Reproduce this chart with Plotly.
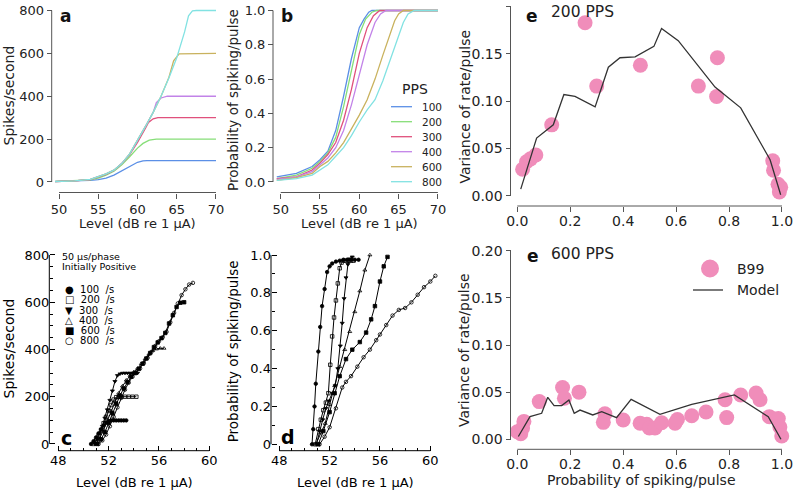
import plotly.graph_objects as go

W, H = 794, 490

PPS = [100, 200, 300, 400, 600, 800]
AB_COLORS = ['#5b8fe6', '#86de78', '#e0507c', '#c283e8', '#c9b25e', '#82e2e2']

# ---------------- panel a : rate vs level (model) ----------------
A_LEVEL = [
    [49.5, 52, 54, 55, 56, 57, 58, 59, 60, 60.7, 61.2, 70],
    [49.5, 52, 54, 55, 56, 57, 58, 59, 60, 60.7, 61.5, 62.4, 70],
    [49.5, 52, 54, 55, 56, 57, 58, 59, 60, 61, 61.4, 62, 62.6, 70],
    [49.5, 52, 54, 55, 56, 57, 58, 59, 60, 61, 62, 62.4, 63, 63.8, 70],
    [49.5, 52, 54, 55, 56, 57, 58, 59, 60, 61, 62, 63, 64, 64.6, 65.3, 70],
    [49.5, 52, 54, 55, 56, 57, 58, 59, 60, 61, 62, 63, 64, 65, 66, 66.5, 67, 67.5, 70],
]
A_RATE = [
    [3, 5, 8, 11, 18, 32, 52, 75, 92, 99, 100, 100],
    [3, 5, 10, 18, 32, 50, 80, 118, 158, 180, 195, 200, 200],
    [2, 5, 11, 22, 36, 54, 85, 128, 185, 250, 278, 295, 300, 300],
    [2, 5, 12, 24, 38, 55, 87, 130, 192, 258, 325, 370, 392, 400, 400],
    [2, 5, 12, 25, 38, 55, 86, 131, 193, 258, 325, 400, 488, 565, 598, 600],
    [2, 5, 12, 25, 38, 55, 86, 131, 193, 258, 325, 400, 485, 580, 700, 775, 798, 800, 800],
]

# ---------------- panel b : probability vs level (model) ----------------
B_LEVEL = [
    [49.5, 52, 54, 55, 56, 57, 58, 59, 60, 60.6, 61.2, 61.6, 70],
    [49.5, 52, 54, 55, 56, 57, 58, 59, 60, 60.8, 61.6, 62.2, 70],
    [49.5, 52, 54, 55, 56, 57, 58, 59, 60, 61, 61.8, 62.6, 70],
    [49.5, 52, 54, 55, 56, 57, 58, 59, 60, 61, 62, 62.7, 63.4, 70],
    [49.5, 52, 54, 55, 56, 57, 58, 59, 60, 61, 62, 63, 64, 64.5, 65, 65.6, 70],
    [49.5, 52, 54, 55, 56, 57, 58, 59, 60, 61, 62, 63, 64, 65, 65.6, 66.2, 67, 70],
]
B_PROB = [
    [0.03, 0.05, 0.09, 0.13, 0.18, 0.30, 0.50, 0.72, 0.90, 0.95, 0.99, 1.0, 1.0],
    [0.02, 0.04, 0.08, 0.12, 0.17, 0.26, 0.44, 0.66, 0.86, 0.95, 0.99, 1.0, 1.0],
    [0.02, 0.03, 0.07, 0.11, 0.16, 0.23, 0.36, 0.54, 0.75, 0.90, 0.97, 1.0, 1.0],
    [0.015, 0.03, 0.06, 0.10, 0.14, 0.20, 0.30, 0.45, 0.63, 0.80, 0.93, 0.98, 1.0, 1.0],
    [0.01, 0.025, 0.05, 0.09, 0.12, 0.17, 0.23, 0.31, 0.39, 0.48, 0.60, 0.74, 0.88, 0.94, 0.98, 1.0, 1.0],
    [0.01, 0.02, 0.04, 0.07, 0.10, 0.15, 0.20, 0.27, 0.35, 0.42, 0.48, 0.59, 0.72, 0.85, 0.93, 0.98, 1.0, 1.0],
]

# ---------------- panel c : measured rate vs level ----------------
C_LEVEL = [
    [50.6, 50.8, 51.0, 51.2, 51.4, 51.6, 51.8, 52.0, 52.2, 52.4, 52.6, 52.8, 53.0, 53.2, 53.4],
    [50.8, 51.0, 51.2, 51.4, 51.6, 51.8, 52.0, 52.2, 52.4, 52.6, 52.8, 53.0, 53.3, 53.6, 53.9, 54.2],
    [50.9, 51.1, 51.3, 51.5, 51.7, 51.9, 52.1, 52.3, 52.5, 52.7, 52.9, 53.1, 53.3, 53.5, 53.7, 53.9, 54.1, 54.3],
    [51.0, 51.3, 51.6, 51.9, 52.2, 52.5, 52.8, 53.1, 53.4, 53.7, 54.0, 54.3, 54.6, 54.9, 55.2, 55.5, 55.8, 56.1, 56.4],
    [51.1, 51.4, 51.7, 52.0, 52.3, 52.6, 52.9, 53.2, 53.5, 53.8, 54.1, 54.4, 54.7, 55.0, 55.3, 55.6, 55.9, 56.2,
     56.5, 56.8, 57.1, 57.4, 57.7, 58.0],
    [51.2, 51.5, 51.8, 52.1, 52.4, 52.7, 53.0, 53.3, 53.6, 53.9, 54.2, 54.5, 54.8, 55.1, 55.4, 55.7, 56.0, 56.3,
     56.6, 56.9, 57.2, 57.5, 57.8, 58.1, 58.4, 58.7],
]
C_RATE = [
    [0, 12, 28, 45, 62, 78, 90, 97, 100, 100, 100, 100, 100, 100, 100],
    [0, 15, 35, 60, 88, 115, 140, 165, 188, 198, 200, 200, 200, 200, 200, 200],
    [0, 20, 45, 75, 110, 145, 185, 225, 265, 290, 297, 300, 300, 300, 300, 300, 300, 300],
    [0, 25, 60, 100, 140, 180, 215, 245, 270, 290, 305, 320, 340, 360, 380, 395, 402, 405, 405],
    [0, 20, 50, 90, 130, 170, 205, 235, 262, 285, 300, 318, 340, 362, 385, 410, 430, 448, 470, 510, 545, 580,
     598, 600],
    [0, 15, 40, 75, 115, 155, 195, 230, 260, 285, 302, 320, 342, 365, 390, 415, 435, 452, 475, 515, 555, 595,
     630, 655, 675, 682],
]
C_SYMBOLS = ['circle', 'square-open', 'triangle-down', 'triangle-up-open', 'square', 'circle-open']
C_LEGEND = ['●  100  /s', '□  200  /s', '▼  300  /s', '△  400  /s', '■  600  /s', '○  800  /s']

# ---------------- panel d : measured probability vs level ----------------
D_LEVEL = [
    [50.6, 50.7, 50.8, 50.9, 51.1, 51.25, 51.4, 51.6, 51.8, 52.0, 52.2, 52.5, 52.8, 53.1, 53.4, 53.7, 54.0, 54.3],
    [50.85, 51.1, 51.3, 51.5, 51.7, 51.9, 52.05, 52.2, 52.35, 52.5, 52.65, 52.8, 52.95, 53.1, 53.3, 53.5, 53.7, 53.9],
    [50.95, 51.2, 51.45, 51.7, 51.95, 52.2, 52.45, 52.65, 52.85, 53.0, 53.15, 53.3, 53.45, 53.6, 53.8],
    [50.9, 51.3, 51.65, 52.0, 52.4, 52.8, 53.2, 53.6, 54.0, 54.4, 54.8, 55.2],
    [51.1, 51.5, 52.0, 52.4, 52.8, 53.3, 53.8, 54.4, 54.9, 55.3, 55.6, 56.0, 56.3, 56.6],
    [51.2, 51.6, 52.0, 52.5, 53.0, 53.3, 53.7, 54.2, 54.7, 55.2, 55.7, 56.0, 56.5, 57.0, 57.5, 58.0, 58.5, 59.0,
     59.5, 60.0, 60.4],
]
D_PROB = [
    [0.0, 0.08, 0.2, 0.32, 0.49, 0.62, 0.73, 0.82, 0.91, 0.94, 0.955, 0.965, 0.97, 0.975, 0.975, 0.975, 0.975, 0.975],
    [0.0, 0.08, 0.13, 0.18, 0.22, 0.27, 0.42, 0.57, 0.67, 0.76, 0.85, 0.93, 0.96, 0.97, 0.97, 0.97, 0.97, 0.97],
    [0.0, 0.07, 0.13, 0.19, 0.23, 0.27, 0.31, 0.40, 0.52, 0.64, 0.77, 0.88, 0.95, 0.98, 0.99],
    [0.0, 0.06, 0.11, 0.21, 0.31, 0.41, 0.50, 0.595, 0.70, 0.81, 0.92, 1.0],
    [0.0, 0.07, 0.17, 0.27, 0.36, 0.45, 0.50, 0.54, 0.59, 0.66, 0.73, 0.86, 0.94, 0.99],
    [0.0, 0.04, 0.09, 0.19, 0.30, 0.33, 0.36, 0.41, 0.46, 0.50, 0.55, 0.58, 0.63, 0.68, 0.71, 0.72, 0.75, 0.79,
     0.83, 0.86, 0.89],
]

# ---------------- panel e : variance vs probability ----------------
E200_P = [0.02, 0.035, 0.05, 0.07, 0.13, 0.256, 0.30, 0.465, 0.684, 0.756, 0.753, 0.965, 0.968, 0.985, 0.995, 0.99]
E200_V = [0.028, 0.036, 0.039, 0.043, 0.075, 0.183, 0.116, 0.138, 0.116, 0.146, 0.105, 0.037, 0.027, 0.012,
          0.009, 0.004]
M200_P = [0.013, 0.073, 0.136, 0.176, 0.218, 0.294, 0.344, 0.388, 0.445, 0.516, 0.545, 0.608, 0.747, 0.844,
          0.955, 0.995]
M200_V = [0.007, 0.061, 0.075, 0.107, 0.105, 0.094, 0.136, 0.146, 0.147, 0.158, 0.177, 0.164, 0.115, 0.093,
          0.038, 0.001]

E600_P = [0.0, 0.013, 0.02, 0.025, 0.083, 0.171, 0.178, 0.233, 0.331, 0.325, 0.40, 0.464, 0.489, 0.499, 0.52,
          0.545, 0.596, 0.605, 0.659, 0.713, 0.785, 0.791, 0.844, 0.902, 0.917, 0.952, 0.986, 0.992, 0.999]
E600_V = [0.008, 0.006, 0.012, 0.019, 0.040, 0.055, 0.0435, 0.050, 0.027, 0.018, 0.0205, 0.017, 0.016, 0.012,
          0.012, 0.0176, 0.017, 0.021, 0.025, 0.029, 0.042, 0.023, 0.047, 0.049, 0.042, 0.024, 0.022, 0.013, 0.0035]
M600_P = [0.004, 0.048, 0.092, 0.115, 0.139, 0.168, 0.195, 0.215, 0.237, 0.285, 0.319, 0.375, 0.43, 0.539,
          0.659, 0.82, 0.948, 0.996]
M600_V = [0.003, 0.024, 0.0276, 0.0445, 0.0357, 0.0357, 0.0417, 0.0276, 0.031, 0.0258, 0.0293, 0.0229, 0.0424,
          0.0265, 0.0371, 0.047, 0.024, 0.0]

PINK = '#f08dba'
FONT = 'DejaVu Sans'
GREY = '#555555'
TXT = '#222222'

# ---------------- layout helpers (pixel calibration) ----------------
def lin(v0, p0, v1, p1):
    s = (p1 - p0) / (v1 - v0)
    return lambda v: p0 + (v - v0) * s


def xax(v0, p0, v1, p1, rng, ypx, **kw):
    f = lin(v0, p0, v1, p1)
    d = dict(domain=[f(rng[0]) / W, f(rng[1]) / W], range=rng, anchor='free', position=1 - ypx / H,
             showline=False, showgrid=False, zeroline=False, automargin=False, fixedrange=True)
    d.update(kw)
    return d


def yax(v0, p0, v1, p1, rng, xpx, **kw):
    f = lin(v0, p0, v1, p1)
    d = dict(domain=[1 - f(rng[0]) / H, 1 - f(rng[1]) / H], range=rng, anchor='free', position=xpx / W,
             showline=False, showgrid=False, zeroline=False, automargin=False, fixedrange=True)
    d.update(kw)
    return d


tick_ab = dict(ticks='outside', ticklen=5, tickwidth=1, tickcolor=GREY, tickfont=dict(family=FONT, size=13, color=TXT))
tick_cd = dict(ticks='inside', ticklen=5, tickwidth=1, tickcolor='black', tickfont=dict(family=FONT, size=13, color='black'))
tick_e = dict(ticks='outside', ticklen=5, tickwidth=1, tickcolor=GREY, tickfont=dict(family=FONT, size=14, color=TXT))

# pixel positions of spines
A_YSP, A_XSP = 51.7, 192.5
B_YSP = 273.0
C_YSP, C_XSP = 49.3, 450.7
D_YSP = 271.0
E_YSP, E1_XSP, E2_XSP = 510.5, 206.0, 449.3

layout_axes = dict(
    xaxis=xax(50, 59, 70, 216, [49.3, 70.4], A_XSP, tickvals=[50, 55, 60, 65, 70], **tick_ab),
    yaxis=yax(0, 182, 800, 10.5, [-12, 812], A_YSP, tickvals=[0, 200, 400, 600, 800], **tick_ab),
    xaxis2=xax(50, 280.7, 70, 437.9, [49.3, 70.4], A_XSP, tickvals=[50, 55, 60, 65, 70], **tick_ab),
    yaxis2=yax(0, 182, 1, 10.5, [-0.015, 1.015], B_YSP, tickvals=[0, 0.2, 0.4, 0.6, 0.8, 1.0],
               ticktext=['0.0', '0.2', '0.4', '0.6', '0.8', '1.0'], **tick_ab),
    xaxis3=xax(48, 58.3, 60, 209.3, [47.8, 60.3], C_XSP, tickvals=[48, 52, 56, 60],
               minor=dict(tickvals=list(range(48, 61)), ticks='inside', ticklen=3, tickcolor='black'), **tick_cd),
    yaxis3=yax(0, 444, 800, 255, [-12, 812], C_YSP, tickvals=[0, 200, 400, 600, 800],
               minor=dict(tickvals=list(range(0, 801, 50)), ticks='inside', ticklen=3, tickcolor='black'), **tick_cd),
    xaxis4=xax(48, 279.3, 60, 430.3, [47.8, 61.0], C_XSP, tickvals=[48, 52, 56, 60],
               minor=dict(tickvals=list(range(48, 61)), ticks='inside', ticklen=3, tickcolor='black'), **tick_cd),
    yaxis4=yax(0, 444.3, 1, 255, [-0.02, 1.02], D_YSP, tickvals=[0, 0.2, 0.4, 0.6, 0.8, 1.0],
               ticktext=['0', '0.2', '0.4', '0.6', '0.8', '1.0'],
               minor=dict(tickvals=[i / 10 for i in range(11)], ticks='inside', ticklen=3, tickcolor='black'),
               **tick_cd),
    xaxis5=xax(0, 517.3, 1, 782, [-0.03, 1.03], E1_XSP, tickvals=[0, 0.2, 0.4, 0.6, 0.8, 1.0],
               ticktext=['0.0', '0.2', '0.4', '0.6', '0.8', '1.0'], ticklabelstandoff=-3, **tick_e),
    yaxis5=yax(0, 195.7, 0.2, 6.7, [-0.008, 0.2], E_YSP, tickvals=[0, 0.05, 0.10, 0.15, 0.20],
               ticktext=['0.00', '0.05', '0.10', '0.15', '0.20'], **tick_e),
    xaxis6=xax(0, 517.3, 1, 782, [-0.03, 1.03], E2_XSP, tickvals=[0, 0.2, 0.4, 0.6, 0.8, 1.0],
               ticktext=['0.0', '0.2', '0.4', '0.6', '0.8', '1.0'], ticklabelstandoff=-3, **tick_e),
    yaxis6=yax(0, 439.3, 0.2, 250.7, [-0.008, 0.2], E_YSP, tickvals=[0, 0.05, 0.10, 0.15, 0.20],
               ticktext=['0.00', '0.05', '0.10', '0.15', '0.20'], **tick_e),
)

fig = go.Figure()

# panel a & b
for i, p in enumerate(PPS):
    fig.add_trace(go.Scatter(x=A_LEVEL[i], y=A_RATE[i], mode='lines', line=dict(color=AB_COLORS[i], width=1.3),
                             xaxis='x', yaxis='y', showlegend=False, hoverinfo='skip'))
    fig.add_trace(go.Scatter(x=B_LEVEL[i], y=B_PROB[i], mode='lines', line=dict(color=AB_COLORS[i], width=1.3),
                             xaxis='x2', yaxis='y2', showlegend=False, hoverinfo='skip'))
# panel c & d
for i, p in enumerate(PPS):
    mk = dict(symbol=C_SYMBOLS[i], size=3.5, color='black', line=dict(color='black', width=0.8))
    fig.add_trace(go.Scatter(x=C_LEVEL[i], y=C_RATE[i], mode='lines+markers', line=dict(color='black', width=1),
                             marker=mk, xaxis='x3', yaxis='y3', showlegend=False, hoverinfo='skip'))
    fig.add_trace(go.Scatter(x=D_LEVEL[i], y=D_PROB[i], mode='lines+markers', line=dict(color='black', width=1),
                             marker=mk, xaxis='x4', yaxis='y4', showlegend=False, hoverinfo='skip'))
# panel e
fig.add_trace(go.Scatter(x=E200_P, y=E200_V, mode='markers', marker=dict(color=PINK, size=15),
                         cliponaxis=False, xaxis='x5', yaxis='y5', showlegend=False))
fig.add_trace(go.Scatter(x=M200_P, y=M200_V, mode='lines', line=dict(color='#333333', width=1.3),
                         xaxis='x5', yaxis='y5', showlegend=False))
fig.add_trace(go.Scatter(x=E600_P, y=E600_V, mode='markers', marker=dict(color=PINK, size=15),
                         cliponaxis=False, xaxis='x6', yaxis='y6', showlegend=False))
fig.add_trace(go.Scatter(x=M600_P, y=M600_V, mode='lines', line=dict(color='#333333', width=1.3),
                         xaxis='x6', yaxis='y6', showlegend=False))

# ---------------- spines ----------------
shapes = []


def hspine(xref, x0, x1, ypx, color):
    shapes.append(dict(type='line', xref=xref, yref='paper', x0=x0, x1=x1, y0=1 - ypx / H, y1=1 - ypx / H,
                       line=dict(color=color, width=1)))


def vspine(yref, y0, y1, xpx, color):
    shapes.append(dict(type='line', xref='paper', yref=yref, x0=xpx / W, x1=xpx / W, y0=y0, y1=y1,
                       line=dict(color=color, width=1)))


hspine('x', 50, 70, A_XSP, GREY); vspine('y', 0, 800, A_YSP, GREY)
hspine('x2', 50, 70, A_XSP, GREY); vspine('y2', 0, 1, B_YSP, GREY)
hspine('x3', 48, 60, C_XSP, 'black'); vspine('y3', 0, 800, C_YSP, 'black')
hspine('x4', 48, 60, C_XSP, 'black'); vspine('y4', 0, 1, D_YSP, 'black')
hspine('x5', 0, 1, E1_XSP, GREY); vspine('y5', 0, 0.2, E_YSP, GREY)
hspine('x6', 0, 1, E2_XSP, GREY); vspine('y6', 0, 0.2, E_YSP, GREY)

# ---------------- text annotations ----------------
ann = []


def text(x, y, s, size, color=TXT, angle=0, xanchor='center', bold=False):
    ann.append(dict(xref='paper', yref='paper', x=x / W, y=1 - y / H, text=('<b>%s</b>' % s) if bold else s,
                    showarrow=False, textangle=angle, xanchor=xanchor, yanchor='middle',
                    font=dict(family=FONT, size=size, color=color)))


LEVEL_TITLE = 'Level (dB re 1 μA)'
PROB_TITLE = 'Probability of spiking/pulse'
VAR_TITLE = 'Variance of rate/pulse'

text(8.5, 96, 'Spikes/second', 14, angle=-90)
text(137.5, 223, LEVEL_TITLE, 13)
text(233, 100, PROB_TITLE, 13.5, angle=-90)
text(359, 223, LEVEL_TITLE, 13)
text(65, 16, 'a', 17, color='#111', bold=True)
text(287, 16, 'b', 17, color='#111', bold=True)

text(8.5, 349, 'Spikes/second', 14, color='black', angle=-90)
text(134.7, 482, LEVEL_TITLE, 13, color='black')
text(233.3, 351, PROB_TITLE, 13.5, color='black', angle=-90)
text(355, 482, LEVEL_TITLE, 13, color='black')
text(66, 438, 'c', 19, color='black', bold=True)
text(288, 437, 'd', 19, color='black', bold=True)
text(60, 256, '50 μs/phase', 9.5, color='black', xanchor='left')
text(60, 266.5, 'Initially Positive', 9.5, color='black', xanchor='left')
C_ROWS_Y = [289, 299.5, 310, 320, 330, 340]
for s, yy in zip(C_LEGEND, C_ROWS_Y):
    text(63, yy, s, 10, color='black', xanchor='left')

text(464, 106.5, VAR_TITLE, 14, angle=-90)
text(464, 350, VAR_TITLE, 14, angle=-90)
text(641, 479.5, PROB_TITLE, 14)
text(532, 15.5, 'e', 17, color='#111', bold=True)
text(532.5, 255.5, 'e', 17, color='#111', bold=True)
text(549, 12, '200 PPS', 15.5, xanchor='left')
text(549, 254, '600 PPS', 15.5, xanchor='left')

# legend of panel b (drawn by hand)
text(415, 88.5, 'PPS', 14)
B_LEG_Y = [106.7, 121.7, 136.7, 151.7, 166.7, 181.7]
for i, p in enumerate(PPS):
    yy = B_LEG_Y[i]
    shapes.append(dict(type='line', xref='paper', yref='paper', x0=391 / W, x1=412 / W, y0=1 - yy / H,
                       y1=1 - yy / H, line=dict(color=AB_COLORS[i], width=1.3)))
    text(420, yy, str(p), 10.5, xanchor='left')

# legend of panel e (drawn by hand)
shapes.append(dict(type='circle', xref='paper', yref='paper', x0=(710 - 9) / W, x1=(710 + 9) / W,
                   y0=1 - (268.5 + 9) / H, y1=1 - (268.5 - 9) / H, fillcolor=PINK, line=dict(width=0)))
text(735, 268.5, 'B99', 14, xanchor='left')
shapes.append(dict(type='line', xref='paper', yref='paper', x0=693 / W, x1=723 / W, y0=1 - 290 / H,
                   y1=1 - 290 / H, line=dict(color='#333333', width=1.3)))
text(735, 290, 'Model', 14, xanchor='left')

fig.update_layout(
    template='none',
    width=W, height=H, margin=dict(l=0, r=0, t=0, b=0, autoexpand=False),
    paper_bgcolor='white', plot_bgcolor='rgba(0,0,0,0)',
    font=dict(family=FONT, color=TXT),
    shapes=shapes, annotations=ann, showlegend=False,
    **layout_axes,
)

fig.write_html('out.html', config={'displayModeBar': False},
               post_script="document.body.style.margin='0px';document.body.style.padding='0px';"
                           "document.body.style.overflow='hidden';")
